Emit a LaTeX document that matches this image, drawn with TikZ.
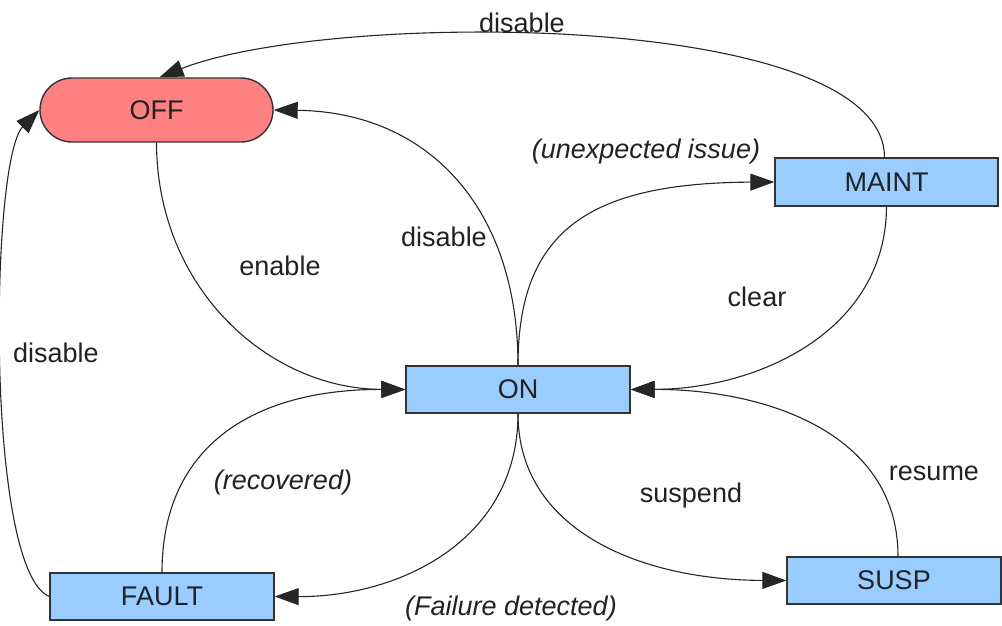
\documentclass[tikz,border=0pt]{standalone}
\usepackage{fontspec}
\setmainfont{Liberation Sans}
\usetikzlibrary{arrows.meta}
\definecolor{offred}{HTML}{FF8080}
\definecolor{stblue}{HTML}{99CCFF}
\definecolor{bordr}{HTML}{333333}
\definecolor{txt}{HTML}{222222}
\begin{document}
\begin{tikzpicture}[x=1pt,y=-1pt,
  every node/.style={font=\fontsize{27}{32}\selectfont, text=txt},
  statebox/.style={draw=bordr, line width=1.4pt, fill=stblue, inner sep=0pt, minimum height=47pt},
  offbox/.style={draw=bordr, line width=1.4pt, fill=offred, inner sep=0pt, minimum width=233pt, minimum height=64pt, rounded corners=32pt},
  trans/.style={draw=black!85, line width=1.1pt, -{Triangle[length=24pt,width=17pt]}},
  lbl/.style={inner sep=0pt},
  ilbl/.style={inner sep=0pt, font=\fontsize{27}{32}\selectfont\itshape}]
\useasboundingbox (0,0) rectangle (1002,625);
\fill[white] (0,0) rectangle (1002,625);

\node[offbox] (off) at (156.5,110) {OFF};
\node[statebox, minimum width=224pt] (on) at (518,389.5) {ON};
\node[statebox, minimum width=223pt, minimum height=48pt] (maint) at (886.5,182) {MAINT};
\node[statebox, minimum width=224pt] (fault) at (162,596.5) {FAULT};
\node[statebox, minimum width=214pt] (susp) at (894,580.5) {SUSP};

% edges
\draw[trans] ([xshift=-2pt]maint.north) .. controls (884,10) and (330,10) .. ([xshift=3pt]off.north);
\draw[trans] (on.north) .. controls (518,210) and (430,112) .. (off.east);
\draw[trans] (off.south) .. controls (157,290) and (270,389) .. (on.west);
\draw[trans] (on.north) .. controls (518,230) and (590,183) .. (maint.west);
\draw[trans] (maint.south) .. controls (886,330) and (760,389) .. (on.east);
\draw[trans] (fault.west) .. controls (-15,570) and (-10,160) .. (off.west);
\draw[trans] (fault.north) .. controls (162,445) and (255,389) .. (on.west);
\draw[trans] (on.south) .. controls (518,540) and (400,597) .. (fault.east);
\draw[trans] (on.south) .. controls (518,530) and (640,580) .. (susp.west);
\draw[trans] ([xshift=4pt]susp.north) .. controls (898,430) and (760,389) .. (on.east);

% labels
\node[lbl] (l1) at (522,23) {disable};
\node[ilbl] (l2) at (646,152) {(unexpected issue)};
\node[lbl] (l3) at (444,237) {disable};
\node[lbl] (l4) at (280,266) {enable};
\node[lbl] (l5) at (757,297) {clear};
\node[lbl] (l6) at (56,353) {disable};
\node[ilbl] (l7) at (283,483) {(recovered)};
\node[lbl] (l8) at (691,496) {suspend};
\node[lbl] (l9) at (934,473) {resume};
\node[ilbl] (l10) at (511,609) {(Failure detected)};
\end{tikzpicture}
\end{document}
